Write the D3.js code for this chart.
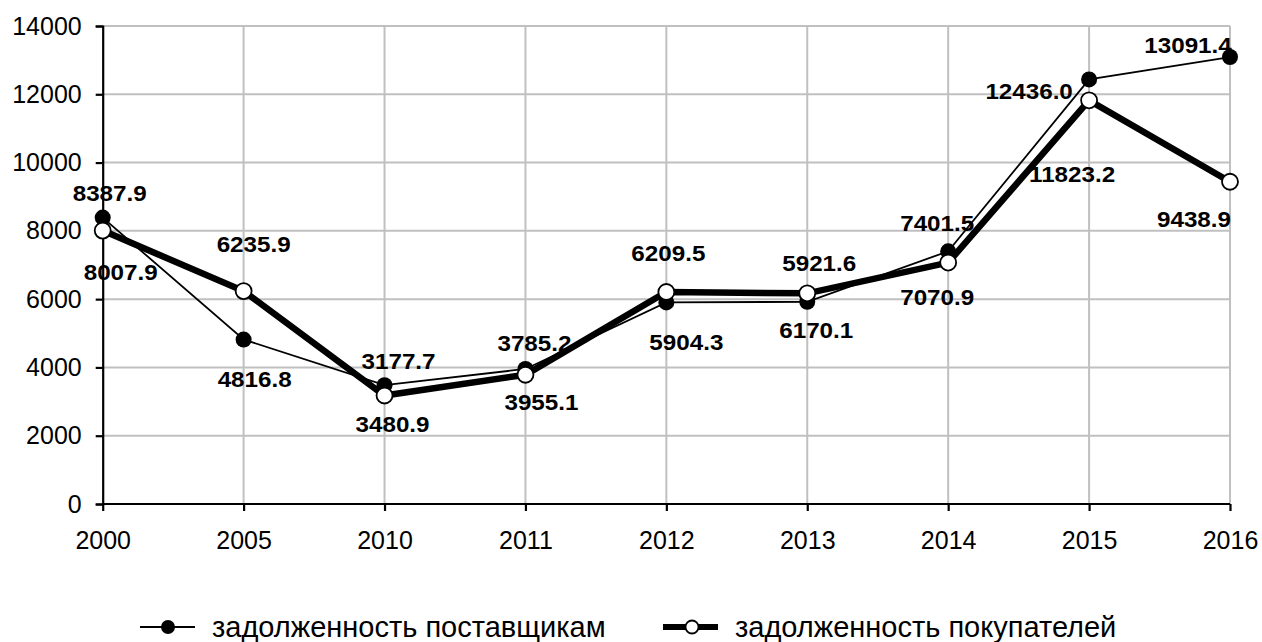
<!DOCTYPE html>
<html>
<head>
<meta charset="utf-8">
<script src="https://cdn.jsdelivr.net/npm/d3@7"></script>
<style>
  body { margin: 0; background: #fff; }
  text { font-family: Arial, "Liberation Sans", sans-serif; }
</style>
</head>
<body>
<svg id="chart" width="1262" height="642"></svg>
<script>
const years = ["2000", "2005", "2010", "2011", "2012", "2013", "2014", "2015", "2016"];
const suppliers = [8387.9, 4816.8, 3480.9, 3955.1, 5904.3, 5921.6, 7401.5, 12436.0, 13091.4];
const buyers = [8007.9, 6235.9, 3177.7, 3785.2, 6209.5, 6170.1, 7070.9, 11823.2, 9438.9];
const yTicks = [0, 2000, 4000, 6000, 8000, 10000, 12000, 14000];
const seriesNames = ["задолженность поставщикам", "задолженность покупателей"];

// label offsets from each point (px)
const supOffset = [[7, -25], [11, 40], [8, 39], [16, 33], [20, 40], [12, -39], [-11, -28], [-60, 12], [-42, -12]];
const buyOffset = [[18, 41], [10, -47], [14, -34], [9, -32], [2, -39], [9, 37], [-11, 34], [-17, 74], [-36, 37]];

const svg = d3.select("#chart");

const x = d3.scalePoint().domain(years).range([102.7, 1230]);
const y = d3.scaleLinear().domain([0, 14000]).range([504, 26]);

// gridlines
svg.append("g")
  .selectAll("line")
  .data(yTicks.filter(d => d > 0))
  .enter()
  .append("line")
  .attr("x1", x("2000"))
  .attr("x2", x("2016"))
  .attr("y1", d => y(d))
  .attr("y2", d => y(d))
  .attr("stroke", "#c0c0c0")
  .attr("stroke-width", 2);

svg.append("g")
  .selectAll("line")
  .data(years.slice(1))
  .enter()
  .append("line")
  .attr("x1", d => x(d))
  .attr("x2", d => x(d))
  .attr("y1", y(0))
  .attr("y2", y(14000))
  .attr("stroke", "#c0c0c0")
  .attr("stroke-width", 2);

// axes
const yAxis = svg.append("g")
  .attr("transform", "translate(" + x("2000") + ",0)")
  .call(d3.axisLeft(y).tickValues(yTicks).tickSize(7).tickPadding(14).tickFormat(d3.format("d")));

const xAxis = svg.append("g")
  .attr("transform", "translate(0," + y(0) + ")")
  .call(d3.axisBottom(x).tickSize(7).tickPadding(20));

[yAxis, xAxis].forEach(function (a) {
  a.select(".domain").attr("stroke", "#000").attr("stroke-width", 2.2);
  a.selectAll(".tick line").attr("stroke", "#000").attr("stroke-width", 2.2);
  a.selectAll(".tick text")
    .attr("font-size", "25px")
    .attr("font-family", "Arial, 'Liberation Sans', sans-serif")
    .attr("fill", "#000");
});
xAxis.select(".domain").attr("d", "M" + x("2000") + ",0H" + x("2016"));

// lines
const line = d3.line()
  .x((d, i) => x(years[i]))
  .y(d => y(d));

svg.append("path")
  .datum(suppliers)
  .attr("d", line)
  .attr("fill", "none")
  .attr("stroke", "#000")
  .attr("stroke-width", 1.8);

svg.append("path")
  .datum(buyers)
  .attr("d", line)
  .attr("fill", "none")
  .attr("stroke", "#000")
  .attr("stroke-width", 6.5);

// markers
svg.append("g")
  .selectAll("circle")
  .data(suppliers)
  .enter()
  .append("circle")
  .attr("cx", (d, i) => x(years[i]))
  .attr("cy", d => y(d))
  .attr("r", 8)
  .attr("fill", "#000");

svg.append("g")
  .selectAll("circle")
  .data(buyers)
  .enter()
  .append("circle")
  .attr("cx", (d, i) => x(years[i]))
  .attr("cy", d => y(d))
  .attr("r", 8)
  .attr("fill", "#fff")
  .attr("stroke", "#000")
  .attr("stroke-width", 1.8);

// data labels
const fmt = d3.format(".1f");
function addLabels(values, offsets) {
  svg.append("g")
    .selectAll("text")
    .data(values)
    .enter()
    .append("text")
    .attr("transform", function (d, i) {
      return "translate(" + (x(years[i]) + offsets[i][0]) + "," + (y(d) + offsets[i][1]) + ") scale(1.1,1)";
    })
    .attr("dy", "0.36em")
    .attr("text-anchor", "middle")
    .attr("font-size", "22px")
    .attr("font-weight", "bold")
    .attr("fill", "#000")
    .text(d => fmt(d));
}
addLabels(suppliers, supOffset);
addLabels(buyers, buyOffset);

// legend
const legend = svg.append("g").attr("transform", "translate(0,627)");

legend.append("line")
  .attr("x1", 140).attr("x2", 195).attr("y1", 0).attr("y2", 0)
  .attr("stroke", "#000").attr("stroke-width", 1.8);
legend.append("circle")
  .attr("cx", 168).attr("cy", 0).attr("r", 7).attr("fill", "#000");
legend.append("text")
  .attr("x", 212).attr("y", 10)
  .attr("font-size", "29px").attr("fill", "#000")
  .text(seriesNames[0]);

legend.append("line")
  .attr("x1", 663).attr("x2", 718).attr("y1", 0).attr("y2", 0)
  .attr("stroke", "#000").attr("stroke-width", 6);
legend.append("circle")
  .attr("cx", 692).attr("cy", 0).attr("r", 6.5)
  .attr("fill", "#fff").attr("stroke", "#000").attr("stroke-width", 1.8);
legend.append("text")
  .attr("x", 735).attr("y", 10)
  .attr("font-size", "29px").attr("fill", "#000")
  .text(seriesNames[1]);
</script>
</body>
</html>
